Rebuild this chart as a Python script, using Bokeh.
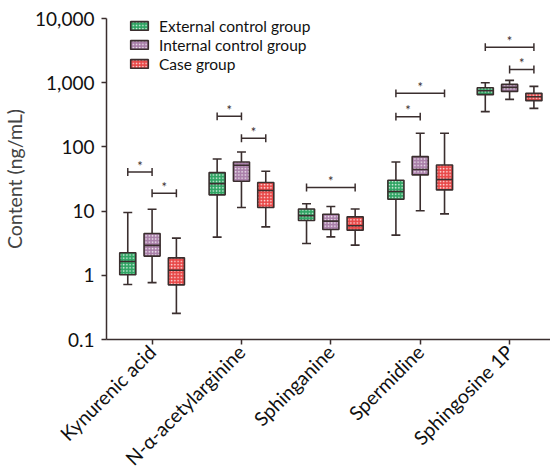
import math
from bokeh.plotting import figure
from bokeh.models import FixedTicker, Range1d, Legend, LegendItem
from bokeh.embed import file_html
from bokeh.resources import INLINE
from bokeh.core.properties import value

compounds = ["Kynurenic acid", "N-\u03b1-acetylarginine", "Sphinganine", "Spermidine", "Sphingosine 1P"]
groups = ["External control group", "Internal control group", "Case group"]
colors = ["#2fa463", "#a97fa9", "#e84848"]

# five-number summaries per group, one value per compound
ext_low = [0.72, 3.93, 3.13, 4.22, 354]
ext_q1 = [1.02, 17.9, 7.15, 15.3, 651]
ext_med = [1.64, 26.8, 8.5, 20.2, 751]
ext_q3 = [2.24, 39.8, 10.8, 30.2, 836]
ext_high = [9.5, 64.8, 13.0, 58.2, 1000]

int_low = [0.77, 11.4, 3.97, 10.1, 550]
int_q1 = [1.99, 29.2, 5.17, 36.6, 732]
int_med = [2.92, 51.7, 6.97, 44.4, 845]
int_q3 = [4.48, 58.2, 8.95, 70.6, 941]
int_high = [10.7, 83.3, 11.8, 163, 1086]

case_low = [0.255, 5.68, 2.95, 9.05, 398]
case_q1 = [0.71, 11.4, 5.05, 21.4, 525]
case_med = [1.2, 20.9, 5.9, 31.0, 605]
case_q3 = [1.87, 27.9, 8.13, 52.3, 682]
case_high = [3.79, 41.7, 10.8, 163, 877]

# significance brackets: compound index, from group, to group, height
sig_compound = [0, 0, 1, 1, 2, 3, 3, 4, 4]
sig_from = [0, 1, 0, 1, 0, 0, 0, 0, 1]
sig_to = [1, 2, 1, 2, 2, 2, 1, 2, 2]
sig_y = [40.7, 19.0, 299, 136, 23.3, 682, 296, 3580, 1610]

y_ticks = [0.1, 1, 10, 100, 1000, 10000]
y_tick_labels = ["0.1", "1", "10", "100", "1,000", "10,000"]

summaries = [
    (ext_low, ext_q1, ext_med, ext_q3, ext_high),
    (int_low, int_q1, int_med, int_q3, int_high),
    (case_low, case_q1, case_med, case_q3, case_high),
]

FONT = "Lato"
INK = "#3a2e2e"
offsets = [-0.272, 0.0, 0.272]
box_w = 0.18
cap_w = 0.1

p = figure(frame_width=446, frame_height=321, output_backend="svg", toolbar_location=None,
           y_axis_type="log", x_range=Range1d(-0.51, 4.48), y_range=Range1d(0.1, 10000),
           min_border_left=96, min_border_right=0, min_border_top=18, min_border_bottom=0)
p.grid.visible = False
p.outline_line_color = None
p.background_fill_color = "white"
p.border_fill_color = "white"

n = len(compounds)
box_renderers = []
for g, (lo, q1, med, q3, hi) in enumerate(summaries):
    xs = [i + offsets[g] for i in range(n)]
    p.segment(x0=xs, y0=lo, x1=xs, y1=q1, line_color=INK, line_width=1.6)
    p.segment(x0=xs, y0=q3, x1=xs, y1=hi, line_color=INK, line_width=1.6)
    p.segment(x0=[x - cap_w / 2 for x in xs], y0=lo, x1=[x + cap_w / 2 for x in xs], y1=lo,
              line_color=INK, line_width=1.6)
    p.segment(x0=[x - cap_w / 2 for x in xs], y0=hi, x1=[x + cap_w / 2 for x in xs], y1=hi,
              line_color=INK, line_width=1.6)
    r = p.quad(left=[x - box_w / 2 for x in xs], right=[x + box_w / 2 for x in xs],
               bottom=q1, top=q3, fill_color=colors[g], line_color=INK, line_width=1.6,
               hatch_pattern="dot", hatch_color="white", hatch_scale=3.2, hatch_weight=1.3,
               hatch_alpha=0.85)
    box_renderers.append(r)
    p.segment(x0=[x - box_w / 2 for x in xs], y0=med, x1=[x + box_w / 2 for x in xs], y1=med,
              line_color=INK, line_width=1.6)

# brackets
bx0 = [c + offsets[f] for c, f in zip(sig_compound, sig_from)]
bx1 = [c + offsets[t] for c, t in zip(sig_compound, sig_to)]
cap = 10 ** 0.062
p.segment(x0=bx0, y0=sig_y, x1=bx1, y1=sig_y, line_color=INK, line_width=1.5)
p.segment(x0=bx0, y0=[y / cap for y in sig_y], x1=bx0, y1=[y * cap for y in sig_y],
          line_color=INK, line_width=1.5)
p.segment(x0=bx1, y0=[y / cap for y in sig_y], x1=bx1, y1=[y * cap for y in sig_y],
          line_color=INK, line_width=1.5)
p.text(x=[(a + b) / 2 for a, b in zip(bx0, bx1)], y=[y * 10 ** 0.1 for y in sig_y],
       text=["*"] * len(sig_y), text_align="center", text_baseline="middle",
       text_font=value(FONT), text_font_size="13px", text_color=INK)

legend = Legend(items=[LegendItem(label=groups[g], renderers=[box_renderers[g]]) for g in range(3)],
                location=(22, 266), padding=0, spacing=0, margin=0,
                glyph_width=22, glyph_height=11, label_height=19, label_standoff=9,
                label_text_font=FONT, label_text_font_size="15.5px", label_text_color="#111111",
                border_line_color=None, background_fill_alpha=0)
p.add_layout(legend, "center")

# axes
p.yaxis.ticker = FixedTicker(ticks=y_ticks, minor_ticks=[])
p.yaxis.major_label_overrides = {t: l for t, l in zip(y_ticks, y_tick_labels)}
p.yaxis.axis_label = "Content (ng/mL)"
p.yaxis.axis_label_text_font = FONT
p.yaxis.axis_label_text_font_style = "normal"
p.yaxis.axis_label_text_font_size = "19.5px"
p.yaxis.axis_label_standoff = 6

tick_pos = list(range(n))
p.xaxis.ticker = FixedTicker(ticks=tick_pos, minor_ticks=[])
p.xaxis.major_label_overrides = {t: c for t, c in zip(tick_pos, compounds)}
p.xaxis.major_label_orientation = math.pi / 4

for ax in (p.xaxis, p.yaxis):
    ax.axis_line_color = INK
    ax.axis_line_width = 1.5
    ax.major_tick_line_color = INK
    ax.major_tick_line_width = 1.5
    ax.major_tick_in = 0
    ax.major_tick_out = 5
    ax.minor_tick_line_color = None
    ax.major_label_text_font = FONT
    ax.major_label_text_color = "#111111"
p.yaxis.major_label_text_font_size = "19px"
p.xaxis.major_label_text_font_size = "19.5px"
p.yaxis.major_label_standoff = 7
p.xaxis.major_label_standoff = 4

open("out.html", "w").write(file_html(p, INLINE))
